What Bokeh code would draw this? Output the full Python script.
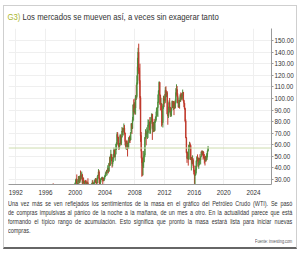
from bokeh.plotting import figure
from bokeh.layouts import column
from bokeh.models import Div, ColumnDataSource, FixedTicker, PrintfTickFormatter, Span, Label, Range1d
from bokeh.embed import file_html
from bokeh.resources import INLINE

# ---------------- data (WTI monthly, from Jan 1996) ----------------
start_year = 1996
close = [
    17.74, 19.54, 21.47, 21.20, 19.76, 20.92, 20.42, 22.25, 24.38, 23.35, 23.75, 25.92,  # 1996
    24.15, 20.30, 20.41, 19.87, 20.88, 19.80, 20.14, 19.61, 21.18, 21.08, 19.15, 17.64,  # 1997
    17.21, 15.44, 15.61, 15.39, 15.20, 14.18, 14.21, 13.36, 16.14, 14.42, 11.22, 12.05,  # 1998
    12.75, 12.27, 16.76, 18.66, 16.84, 19.29, 20.53, 22.10, 24.51, 21.75, 24.59, 25.60,  # 1999
    27.64, 30.43, 26.90, 25.74, 29.01, 32.50, 27.43, 33.12, 30.84, 32.70, 33.82, 26.80,  # 2000
    28.66, 27.39, 26.29, 28.46, 28.37, 26.25, 26.35, 27.20, 23.43, 21.18, 19.44, 19.84,  # 2001
    19.48, 21.74, 26.31, 27.29, 25.31, 26.86, 27.02, 28.98, 30.45, 27.22, 26.89, 31.20,  # 2002
    33.51, 36.60, 31.04, 25.80, 29.56, 30.19, 30.54, 31.57, 29.20, 29.11, 30.41, 32.52,  # 2003
    33.05, 36.16, 35.76, 37.38, 39.88, 37.05, 43.80, 42.12, 49.64, 51.76, 49.13, 43.45,  # 2004
    48.20, 51.75, 55.40, 49.72, 51.97, 56.50, 60.57, 68.94, 66.24, 59.76, 57.32, 61.04,  # 2005
    67.92, 61.41, 66.63, 71.88, 71.29, 73.93, 74.40, 70.26, 62.91, 58.73, 63.13, 61.05,  # 2006
    58.14, 61.79, 65.87, 65.71, 64.01, 70.68, 78.21, 74.04, 81.66, 94.53, 88.71, 95.98,  # 2007
    91.75, 101.84, 101.58, 113.46, 127.35, 140.00, 124.08, 115.46, 100.64, 67.81, 54.43, 44.60,  # 2008
    41.68, 44.76, 49.66, 51.12, 66.31, 69.89, 69.45, 69.96, 70.61, 77.00, 77.28, 79.36,  # 2009
    72.89, 79.66, 83.76, 86.15, 73.97, 75.63, 78.95, 71.92, 79.97, 81.43, 84.11, 91.38,  # 2010
    92.19, 96.97, 106.72, 113.93, 102.70, 95.42, 95.70, 88.81, 79.20, 93.19, 100.36, 98.83,  # 2011
    98.48, 107.07, 103.02, 104.87, 86.53, 84.96, 88.06, 96.47, 92.19, 86.24, 88.91, 91.82,  # 2012
    97.49, 92.05, 97.23, 93.46, 91.97, 96.56, 105.03, 107.65, 102.33, 96.38, 92.72, 98.42,  # 2013
    97.49, 102.59, 101.58, 99.74, 102.71, 105.37, 98.17, 95.96, 91.16, 80.54, 66.15, 53.27,  # 2014
    48.24, 49.76, 47.60, 59.63, 60.30, 59.47, 47.12, 49.20, 45.09, 46.59, 41.65, 37.04,  # 2015
    33.62, 33.75, 38.34, 45.92, 49.10, 48.33, 41.60, 44.70, 48.24, 46.86, 49.44, 53.72,  # 2016
    52.81, 54.01, 50.60, 49.33, 48.32, 46.04, 50.17, 47.23, 51.67, 54.38, 57.19,  # 2017
]
high = [
    18.9, 19.9, 23.0, 25.8, 22.5, 21.5, 22.5, 22.6, 25.0, 25.5, 24.5, 26.0,
    26.6, 24.3, 21.0, 20.6, 21.8, 21.5, 20.5, 20.6, 21.3, 22.8, 21.0, 19.3,
    18.0, 17.2, 16.6, 16.6, 15.9, 15.4, 14.8, 14.2, 17.0, 16.4, 14.4, 12.7,
    13.1, 13.3, 16.9, 18.9, 18.9, 19.5, 20.9, 22.6, 25.6, 24.8, 26.2, 27.2,
    30.0, 30.8, 34.4, 27.0, 30.4, 33.0, 32.2, 33.2, 37.8, 35.7, 36.9, 34.9,
    32.0, 31.6, 28.6, 29.4, 29.4, 29.5, 27.9, 28.3, 31.1, 23.5, 22.8, 20.9,
    21.0, 22.4, 26.6, 29.4, 29.4, 27.3, 28.1, 30.0, 31.2, 31.3, 28.0, 32.7,
    34.0, 39.0, 38.0, 31.2, 30.2, 31.4, 32.0, 32.5, 31.6, 31.5, 32.0, 33.7,
    35.2, 37.0, 38.4, 38.1, 42.3, 40.0, 44.4, 49.4, 50.5, 55.7, 50.0, 46.8,
    49.2, 52.2, 57.6, 56.0, 52.0, 60.9, 62.3, 70.9, 70.9, 67.0, 61.7, 61.6,
    69.2, 68.8, 67.2, 75.4, 74.6, 73.9, 78.4, 77.0, 70.4, 62.2, 63.2, 64.3,
    61.3, 62.2, 66.7, 67.9, 66.5, 70.9, 78.8, 78.2, 84.1, 94.7, 99.3, 96.8,
    100.1, 103.0, 111.8, 119.9, 135.1, 143.7, 147.3, 126.5, 130.0, 102.1, 71.0, 54.7,
    49.0, 45.0, 54.7, 53.1, 66.6, 73.4, 71.9, 75.0, 72.9, 82.0, 81.5, 80.0,
    83.9, 80.5, 83.8, 87.2, 86.7, 79.4, 79.6, 82.4, 80.2, 84.4, 88.6, 92.1,
    92.6, 103.4, 106.9, 114.8, 114.1, 103.3, 100.6, 95.7, 90.5, 95.0, 102.4, 101.8,
    103.7, 109.8, 110.5, 106.0, 106.3, 86.4, 92.9, 98.3, 100.4, 92.7, 89.3, 91.9,
    98.2, 97.8, 97.6, 97.9, 96.1, 99.0, 108.9, 112.2, 110.7, 104.4, 95.6, 100.8,
    98.5, 103.9, 105.2, 104.5, 104.5, 107.7, 105.5, 98.9, 95.8, 92.0, 82.0, 66.6,
    53.6, 54.2, 52.5, 59.9, 62.6, 61.9, 59.7, 49.3, 48.4, 50.9, 48.3, 42.3,
    38.4, 34.7, 41.9, 46.8, 50.2, 51.7, 49.0, 48.8, 48.4, 51.9, 50.2, 54.5,
    55.2, 54.9, 54.7, 53.8, 52.0, 49.0, 50.4, 50.2, 52.9, 55.2, 59.0,
]
low = [
    17.0, 17.5, 18.8, 20.5, 19.0, 19.3, 20.1, 20.0, 22.0, 22.5, 22.8, 23.5,
    23.0, 20.0, 19.5, 19.0, 19.8, 18.8, 19.0, 19.5, 19.2, 20.5, 19.0, 17.5,
    16.5, 15.3, 13.5, 14.6, 14.3, 11.4, 13.9, 12.9, 13.4, 14.0, 11.0, 10.7,
    11.3, 11.5, 12.0, 16.2, 16.2, 16.6, 18.3, 19.7, 21.8, 20.7, 21.6, 24.2,
    24.0, 27.0, 25.1, 23.7, 24.8, 28.0, 26.5, 27.6, 29.1, 29.9, 32.0, 25.4,
    26.7, 26.5, 24.9, 25.5, 27.1, 25.1, 24.6, 26.1, 21.7, 20.7, 17.5, 17.5,
    17.9, 19.5, 21.3, 25.0, 24.6, 24.6, 25.8, 26.4, 27.8, 26.7, 25.0, 26.5,
    30.1, 33.0, 26.8, 25.0, 25.6, 27.6, 29.8, 30.3, 25.8, 28.4, 28.9, 30.0,
    32.1, 33.3, 34.9, 33.6, 37.4, 35.3, 36.8, 41.6, 42.5, 48.1, 45.8, 40.3,
    41.3, 45.0, 50.6, 49.0, 46.2, 51.5, 55.6, 60.3, 62.8, 59.0, 55.5, 56.2,
    61.0, 59.3, 59.8, 66.3, 68.5, 68.0, 72.7, 69.0, 59.5, 56.6, 55.5, 60.2,
    49.9, 57.1, 56.4, 62.0, 61.5, 64.1, 71.8, 69.3, 73.8, 80.2, 85.9, 87.0,
    86.1, 86.1, 98.7, 100.0, 112.0, 122.0, 121.0, 112.2, 90.5, 62.5, 48.3, 32.4,
    33.2, 33.6, 40.0, 45.0, 49.3, 65.1, 59.5, 66.5, 65.0, 65.9, 75.0, 69.5,
    72.4, 69.5, 78.1, 80.6, 64.2, 70.8, 71.0, 71.2, 72.6, 79.0, 80.1, 84.4,
    85.1, 84.1, 96.2, 103.7, 94.6, 89.7, 94.1, 75.7, 77.1, 74.9, 91.0, 92.5,
    95.4, 96.2, 102.0, 101.1, 86.3, 77.3, 83.1, 87.9, 89.0, 84.1, 84.0, 84.6,
    91.8, 92.0, 89.9, 85.6, 90.9, 91.4, 95.6, 103.2, 101.4, 95.7, 91.8, 92.6,
    91.2, 96.9, 97.4, 99.0, 98.5, 101.7, 97.5, 92.5, 90.4, 79.4, 65.7, 52.6,
    44.4, 47.5, 42.0, 47.1, 56.5, 57.2, 47.0, 37.8, 43.2, 43.1, 39.9, 34.5,
    26.2, 26.1, 33.7, 35.2, 43.0, 45.8, 40.6, 39.2, 42.5, 46.2, 43.0, 50.7,
    50.7, 51.2, 47.1, 48.2, 43.8, 42.1, 45.4, 45.6, 46.8, 49.1, 54.8,
]
last_price = 57.19
x_ticks = [1992, 1996, 2000, 2004, 2008, 2012, 2016, 2020, 2024]
y_ticks = [30, 40, 50, 60, 70, 80, 90, 100, 110, 120, 130, 140, 150]

title_prefix = "G3)"
title_text = "Los mercados se mueven así, a veces sin exagerar tanto"
para_lines = [
    "Una vez más se ven reflejados los sentimientos de la masa en el gráfico del Petróleo Crudo (WTI). Se pasó",
    "de compras impulsivas al pánico de la noche a la mañana, de un mes a otro. En la actualidad parece que está",
    "formando el típico rango de acumulación. Esto significa que pronto la masa estará lista para iniciar nuevas",
    "compras.",
]
source_text = "Fuente: investing.com"

# ---------------- derived ----------------
n = len(close)
xs = [start_year + i / 12.0 + 1 / 24.0 for i in range(n)]
opens = [close[0]] + close[:-1]
UP, DOWN = "#4f8f3c", "#c0392b"
colors = [UP if c >= o else DOWN for o, c in zip(opens, close)]
src = ColumnDataSource(dict(
    x=xs, high=high, low=low,
    top=[max(o, c) for o, c in zip(opens, close)],
    bottom=[min(o, c) for o, c in zip(opens, close)],
    color=colors,
))

FONT = "Liberation Sans"
CSSFONT = "'Liberation Sans',Arial,sans-serif"

p = figure(width=292, height=172, y_axis_location="right",
           x_range=Range1d(1991.02, 2026.41), y_range=Range1d(25.7, 160.4),
           min_border_left=4, min_border_right=24, min_border_top=3, min_border_bottom=13,
           output_backend="svg", toolbar_location=None, margin=0)
p.outline_line_color = None
p.background_fill_color = "white"

p.segment("x", "high", "x", "low", source=src, color="color", line_width=1)
p.vbar(x="x", width=1 / 12 * 0.9, top="top", bottom="bottom", source=src,
       fill_color="color", line_color="color", line_width=0.6)

p.add_layout(Span(location=last_price, dimension="width", line_color="#cddcae", line_width=1))
p.add_layout(Label(x=2026.41, y=last_price, x_offset=2, text=f"{last_price:.2f}",
                   text_color="#8fbf5a", text_font=FONT, text_font_size="6.3px",
                   text_baseline="middle"))

xa = p.xaxis[0]
xa.ticker = FixedTicker(ticks=x_ticks)
xa.formatter = PrintfTickFormatter(format="%d")
xa.major_tick_out = 0
xa.major_tick_in = 0
xa.minor_tick_out = 0
xa.minor_tick_in = 0
xa.axis_line_color = "#9a9a9a"
xa.major_label_text_font = FONT
xa.major_label_text_font_size = "6.3px"
xa.major_label_text_color = "#333333"
xa.major_label_standoff = 5

ya = p.yaxis[0]
ya.ticker = FixedTicker(ticks=y_ticks)
ya.formatter = PrintfTickFormatter(format="%.2f")
ya.major_tick_out = 2
ya.major_tick_in = 0
ya.minor_tick_out = 0
ya.minor_tick_in = 0
ya.axis_line_color = "#9a9a9a"
ya.major_tick_line_color = "#9a9a9a"
ya.major_label_text_font = FONT
ya.major_label_text_font_size = "6.3px"
ya.major_label_text_color = "#333333"
ya.major_label_standoff = 1

p.xgrid.ticker = FixedTicker(ticks=x_ticks)
p.ygrid.ticker = FixedTicker(ticks=y_ticks)
p.xgrid.grid_line_color = "#efefef"
p.ygrid.grid_line_color = "#efefef"

title_div = Div(
    text=(f'<div style="font-family:{CSSFONT};font-size:9px;line-height:10px;color:#333;'
          f'padding:6px 0 0 4px;white-space:nowrap;transform:scaleX(0.86);transform-origin:0 0;">'
          f'<span style="color:#a9b62c">{title_prefix}</span> {title_text}</div>'),
    width=292, height=19, margin=0)

S = 0.76
inner_w = round(284 / S)
lines_html = "".join(
    f'<div style="width:{inner_w}px;text-align:justify;'
    f'text-align-last:{"justify" if i < len(para_lines) - 1 else "left"};'
    f'white-space:nowrap;height:8.9px;line-height:8.9px;transform:scaleX({S});transform-origin:0 0;">{t}</div>'
    for i, t in enumerate(para_lines))
para_div = Div(
    text=(f'<div style="font-family:{CSSFONT};font-size:7.2px;color:#333;'
          f'padding:3px 0 0 4px;">{lines_html}'
          f'<div style="width:{inner_w}px;text-align:right;font-size:5px;line-height:8px;padding-top:1.5px;'
          f'color:#555;transform:scaleX({S});transform-origin:0 0;">{source_text}</div>'
          f'</div>'),
    width=292, height=50, margin=0)

layout = column(title_div, p, para_div, margin=(5, 0, 0, 3),
                styles={"border": "1px solid #cfcfcf", "border-bottom": "2px solid #666"})

open("out.html", "w").write(file_html(layout, INLINE))
